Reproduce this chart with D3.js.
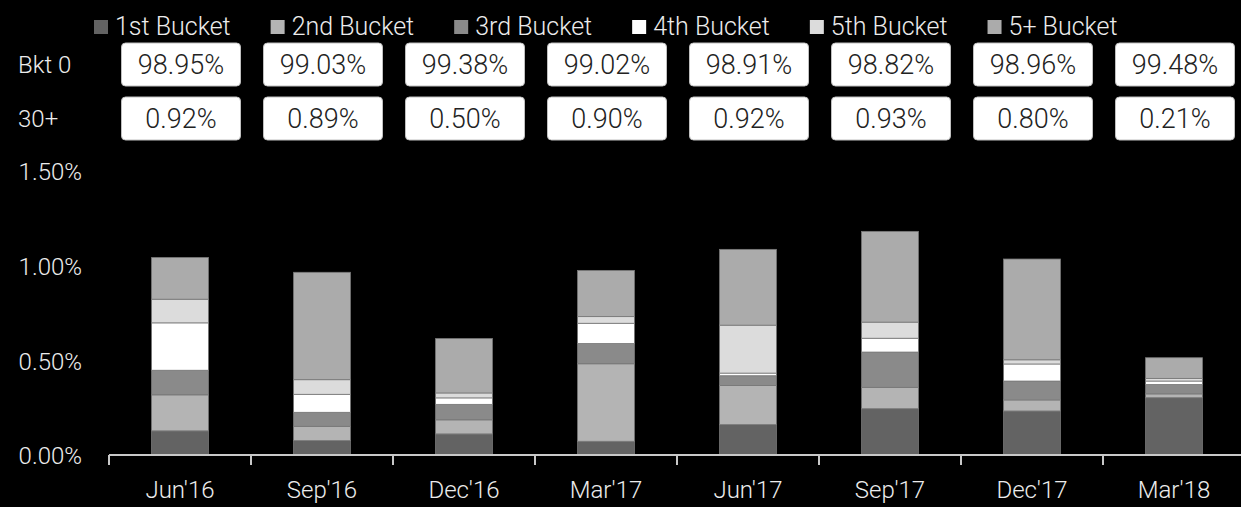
<!DOCTYPE html>
<html><head><meta charset="utf-8">
<script src="https://cdn.jsdelivr.net/npm/d3@7"></script>
<style>
html,body{margin:0;padding:0;background:#000;}
svg{display:block;}
text{font-family:Roboto,"Open Sans",sans-serif;font-weight:300;}
</style></head>
<body>
<svg id="chart" width="1241" height="507"></svg>
<script>
const categories = ["Jun'16","Sep'16","Dec'16","Mar'17","Jun'17","Sep'17","Dec'17","Mar'18"];
const seriesNames = ["1st Bucket","2nd Bucket","3rd Bucket","4th Bucket","5th Bucket","5+ Bucket"];
const bucket1 = [0.130,0.079,0.114,0.075,0.163,0.247,0.235,0.305];
const bucket2 = [0.190,0.075,0.074,0.409,0.207,0.113,0.058,0.020];
const bucket3 = [0.130,0.074,0.082,0.107,0.051,0.186,0.100,0.050];
const bucket4 = [0.250,0.095,0.034,0.107,0.014,0.073,0.090,0.018];
const bucket5 = [0.125,0.077,0.026,0.035,0.253,0.085,0.022,0.014];
const bucket5plus = [0.220,0.567,0.287,0.244,0.400,0.479,0.532,0.109];
const bkt0 = ["98.95%","99.03%","99.38%","99.02%","98.91%","98.82%","98.96%","99.48%"];
const plus30 = ["0.92%","0.89%","0.50%","0.90%","0.92%","0.93%","0.80%","0.21%"];
const yTicks = [0, 0.5, 1.0, 1.5];
const colors = ["#636363","#b4b4b4","#8a8a8a","#ffffff","#dcdcdc","#ababab"];

const svg = d3.select("#chart");
const seriesVals = [bucket1,bucket2,bucket3,bucket4,bucket5,bucket5plus];
const table = categories.map((c,i)=>{
  const o = {cat:c};
  seriesNames.forEach((s,k)=>o[s]=seriesVals[k][i]);
  return o;
});
const stack = d3.stack().keys(seriesNames)(table);

const x = d3.scaleBand().domain(categories).range([109,1245]).paddingInner(0.6).paddingOuter(0.3);
const y = d3.scaleLinear().domain([0,1.5]).range([455.5,171.3]);
const FONT = "Roboto,'Open Sans',sans-serif";

// y-axis labels
const yAxis = d3.axisLeft(y).tickValues(yTicks).tickFormat(d=>d3.format(".2f")(d)+"%").tickSize(0).tickPadding(0);
const yg = svg.append("g").attr("transform","translate(82,0)").call(yAxis);
yg.select(".domain").remove();
yg.selectAll("text").attr("fill","#ececec").style("font-size","24px").style("font-family",FONT).attr("dy","0.35em");

// bars
svg.append("g").selectAll("g").data(stack).join("g")
  .attr("fill",(d,i)=>colors[i])
  .selectAll("rect").data(d=>d).join("rect")
  .attr("x",d=>x(d.data.cat))
  .attr("width",x.bandwidth())
  .attr("y",d=>y(d[1]))
  .attr("height",d=>y(d[0])-y(d[1]))
  .attr("stroke","#7a7a7a").attr("stroke-width",0.8);

// x axis
const xAxis = d3.axisBottom(x).tickSize(0).tickPadding(0);
const xg = svg.append("g").attr("transform","translate(0,455)").call(xAxis);
xg.select(".domain").remove();
xg.selectAll("text").attr("fill","#ececec").style("font-size","24px").style("font-family",FONT).attr("y",26);
svg.append("line").attr("x1",x.range()[0]).attr("x2",1241).attr("y1",455).attr("y2",455)
  .attr("stroke","#c8c8c8").attr("stroke-width",2);
svg.append("g").selectAll("line").data(categories).join("line")
  .attr("x1",(d,i)=>x.range()[0]+i*x.step()).attr("x2",(d,i)=>x.range()[0]+i*x.step())
  .attr("y1",455).attr("y2",465).attr("stroke","#c8c8c8").attr("stroke-width",2);

// boxes rows
const boxW = 119, boxH = 43;
function row(vals, top, label){
  svg.append("text").attr("x",18).attr("y",top+boxH/2).attr("dy","0.35em")
    .attr("fill","#ececec").style("font-size","24px").text(label);
  const g = svg.append("g").selectAll("g").data(categories).join("g")
    .attr("transform",(d)=>`translate(${x(d)+x.bandwidth()/2+1-boxW/2},${top})`);
  g.append("rect").attr("width",boxW).attr("height",boxH).attr("rx",4)
    .attr("fill","#fff").attr("stroke","#bfbfbf").attr("stroke-width",1);
  g.append("text").attr("x",boxW/2).attr("y",boxH/2).attr("dy","0.36em")
    .attr("text-anchor","middle").attr("fill","#222").style("font-size","27px")
    .text((d,i)=>vals[i]);
}
row(bkt0, 43, "Bkt 0");
row(plus30, 97, "30+");

// legend
let lx = 94;
seriesNames.forEach((s,i)=>{
  svg.append("rect").attr("x",lx).attr("y",20).attr("width",14).attr("height",14).attr("fill",colors[i]);
  const t = svg.append("text").attr("x",lx+21).attr("y",26).attr("dy","0.35em")
    .attr("fill","#ececec").style("font-size","25px").text(s);
  lx = lx + 21 + t.node().getComputedTextLength() + 40;
});
</script>
</body></html>
